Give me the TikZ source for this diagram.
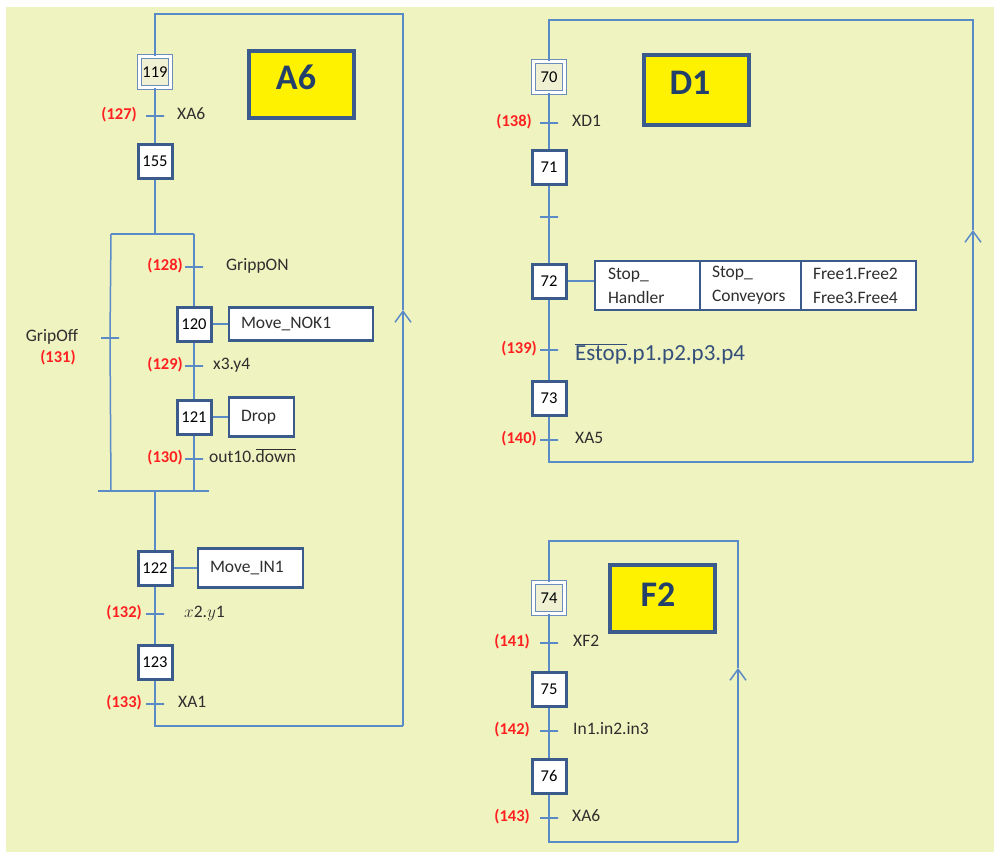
\documentclass[tikz,border=0pt]{standalone}
\usepackage{fontspec}
\setmainfont{Carlito}
\usetikzlibrary{arrows.meta}
\definecolor{bgy}{HTML}{EFF3C0}
\definecolor{flowc}{HTML}{5B8BC7}
\definecolor{stepc}{HTML}{3B5B8C}
\definecolor{redl}{HTML}{FF2020}
\definecolor{txtc}{HTML}{2E2E2E}
\definecolor{titlec}{HTML}{23406A}
\definecolor{initc}{HTML}{6A8DBA}
\definecolor{initfill}{HTML}{EFF1D2}
\definecolor{estopc}{HTML}{34507A}
\begin{document}
\begin{tikzpicture}[x=1pt,y=-1pt,
  flow/.style={draw=flowc, line width=1.5pt},
  barb/.style={-{Straight Barb[length=11pt,width=16pt]}},
  stepbox/.style={draw=stepc, line width=3pt, fill=white, minimum size=34pt, inner sep=0pt,
    font=\fontsize{16.5}{18}\selectfont, text=black},
  initbox/.style={draw=initc, double=white, double distance=2.2pt, line width=1.4pt,
    fill=initfill, minimum size=31pt, inner sep=0pt, font=\fontsize{16.5}{18}\selectfont, text=black},
  trans/.style={draw=flowc, line width=1.5pt, shape=rectangle, minimum width=18pt,
    minimum height=0pt, inner sep=0pt},
  rednum/.style={text=redl, font=\bfseries\fontsize{16.5}{18}\selectfont, anchor=east, inner sep=0pt,
    text height=0.85em, text depth=0.2em},
  cond/.style={text=txtc, font=\fontsize{17.5}{20}\selectfont, anchor=west, inner sep=0pt,
    text height=0.85em, text depth=0.2em},
  actbox/.style={draw=stepc, line width=2.5pt, fill=white, text=txtc, align=left,
    inner xsep=12pt, inner ysep=0pt, font=\fontsize{17.5}{24}\selectfont},
  titlebox/.style={draw=stepc, line width=4pt, fill=yellow, minimum width=105pt, minimum height=67pt},
  titletext/.style={text=titlec, font=\bfseries\fontsize{36}{40}\selectfont, inner sep=0pt},
  estop/.style={text=estopc, font=\fontsize{23}{26}\selectfont, anchor=west, inner sep=0pt,
    text height=0.85em, text depth=0.2em}
]
\useasboundingbox (0,0) rectangle (994,852);
\fill[white] (0,0) rectangle (994,852);
\fill[bgy] (6,7) rectangle (994,852);

% ================= A6 =================
\node[titlebox] (A6box) at (301.5,84.5) {};
\node[titletext] (A6txt) at (296,77) {A6};

\node[initbox] (s119) at (155,72) {119};
\node[trans] (t127) at (155,116) {};
\node[rednum] (n127) at (137,116) {(127)};
\node[cond] (c127) at (177,116) {XA6};
\node[stepbox] (s155) at (155,161) {155};

\coordinate (div) at (155,234);
\coordinate (divL) at (111,234);
\coordinate (divR) at (194,234);
\coordinate (convL) at (111,491);
\coordinate (convR) at (194,491);
\coordinate (conv) at (155,491);
\coordinate (convEL) at (98,491);
\coordinate (convER) at (209,491);
\coordinate (convTL) at (126,491);
\coordinate (convTR) at (181,491);

\node[trans] (t128) at (194,267) {};
\node[rednum] (n128) at (183,267) {(128)};
\node[cond] (c128) at (226,267) {GrippON};
\node[stepbox] (s120) at (194,324) {120};
\node[actbox, minimum height=33pt, text width=120pt] (a120) at (301,324) {Move\_NOK1};
\node[trans] (t129) at (194,366) {};
\node[rednum] (n129) at (183,366) {(129)};
\node[cond] (c129) at (213,366) {x3.y4};
\node[stepbox] (s121) at (194,417) {121};
\node[actbox, minimum height=39pt, text width=41pt] (a121) at (261.5,417) {Drop};
\node[trans] (t130) at (194,459) {};
\node[rednum] (n130) at (183,459) {(130)};
\node[cond] (c130) at (209,459) {out10.$\overline{\hbox{down}}$};

\node[trans] (t131) at (110,338) {};
\node[text=txtc, font=\fontsize{17.5}{20}\selectfont, inner sep=0pt] (c131) at (52,337) {GripOff};
\node[rednum, anchor=center] (n131) at (58,359) {(131)};

\node[stepbox] (s122) at (155,568) {122};
\node[actbox, minimum height=39pt, text width=81pt] (a122) at (250.5,568) {Move\_IN1};
\node[trans] (t132) at (155,614) {};
\node[rednum] (n132) at (142,614) {(132)};
\node[cond] (c132) at (184,614) {$x$2.$y$1};
\node[stepbox] (s123) at (155,662) {123};
\node[trans] (t133) at (155,704) {};
\node[rednum] (n133) at (142,704) {(133)};
\node[cond] (c133) at (178,704) {XA1};

\coordinate (a6bl) at (155,726);
\coordinate (a6br) at (403,726);
\coordinate (a6arr) at (403,310);
\coordinate (a6tr) at (403,14);
\coordinate (a6tl) at (155,14);

\draw[flow] (s119) -- (t127) -- (s155) -- (div);
\draw[flow] (divL) -- (divR);
\draw[flow] (divR) -- (t128) -- (s120) -- (t129) -- (s121) -- (t130) -- (convR);
\draw[flow] (divL) -- (t131) -- (convL);
\draw[flow] (convEL) -- (convER);
\draw[flow, line width=2.5pt] (convTL) -- (convTR);
\draw[flow] (s120) -- (a120);
\draw[flow] (s121) -- (a121);
\draw[flow] (conv) -- (s122) -- (t132) -- (s123) -- (t133) -- (a6bl) -- (a6br);
\draw[flow] (s122) -- (a122);
\draw[flow, barb] (a6br) -- (a6arr);
\draw[flow] (a6arr) -- (a6tr) -- (a6tl) -- (s119);

% ================= D1 =================
\node[titlebox, minimum height=70pt] (D1box) at (696,90) {};
\node[titletext] (D1txt) at (690,83) {D1};

\node[initbox] (s70) at (549,77) {70};
\node[trans] (t138) at (549,123) {};
\node[rednum] (n138) at (532,123) {(138)};
\node[cond] (c138) at (572,123) {XD1};
\node[stepbox] (s71) at (549,167) {71};
\node[trans] (t71) at (549,217) {};
\node[stepbox] (s72) at (549,281) {72};
\node[actbox, minimum height=49pt, inner xsep=13pt, text width=79pt] (ab1) at (647.5,285.5) {Stop\_\\Handler};
\node[actbox, minimum height=49pt, text width=77pt] (ab2) at (750.5,285.5) {Stop\_\\Conveyors};
\node[actbox, minimum height=49pt, text width=91pt] (ab3) at (858.5,285.5) {Free1.Free2\\Free3.Free4};
\node[trans] (t139) at (549,350) {};
\node[rednum] (n139) at (537,350) {(139)};
\node[estop] (c139) at (575,357) {$\overline{\hbox{Estop}}$.p1.p2.p3.p4};
\node[stepbox] (s73) at (549,398) {73};
\node[trans] (t140) at (549,440) {};
\node[rednum] (n140) at (537,440) {(140)};
\node[cond] (c140) at (575,440) {XA5};

\coordinate (d1bl) at (549,462);
\coordinate (d1br) at (973,462);
\coordinate (d1arr) at (973,230);
\coordinate (d1tr) at (973,20);
\coordinate (d1tl) at (549,20);

\draw[flow] (s70) -- (t138) -- (s71) -- (t71) -- (s72) -- (t139) -- (s73) -- (t140) -- (d1bl) -- (d1br);
\draw[flow] (s72.east) -- (s72.east -| ab1.west);
\draw[flow, barb] (d1br) -- (d1arr);
\draw[flow] (d1arr) -- (d1tr) -- (d1tl) -- (s70);

% ================= F2 =================
\node[titlebox] (F2box) at (662.5,598.5) {};
\node[titletext] (F2txt) at (658,595) {F2};

\node[initbox] (s74) at (549,598) {74};
\node[trans] (t141) at (549,643) {};
\node[rednum] (n141) at (530,643) {(141)};
\node[cond] (c141) at (573,643) {XF2};
\node[stepbox] (s75) at (549,689) {75};
\node[trans] (t142) at (549,731) {};
\node[rednum] (n142) at (530,731) {(142)};
\node[cond] (c142) at (573,731) {In1.in2.in3};
\node[stepbox] (s76) at (549,776) {76};
\node[trans] (t143) at (549,818) {};
\node[rednum] (n143) at (530,818) {(143)};
\node[cond] (c143) at (572,818) {XA6};

\coordinate (f2bl) at (549,842);
\coordinate (f2br) at (738,842);
\coordinate (f2arr) at (738,668);
\coordinate (f2tr) at (738,541);
\coordinate (f2tl) at (549,541);
\coordinate (f2tkL) at (609,842);
\coordinate (f2tkR) at (680,842);

\draw[flow] (s74) -- (t141) -- (s75) -- (t142) -- (s76) -- (t143) -- (f2bl) -- (f2br);
\draw[flow, line width=2.5pt] (f2tkL) -- (f2tkR);
\draw[flow, barb] (f2br) -- (f2arr);
\draw[flow] (f2arr) -- (f2tr) -- (f2tl) -- (s74);
\end{tikzpicture}
\end{document}
